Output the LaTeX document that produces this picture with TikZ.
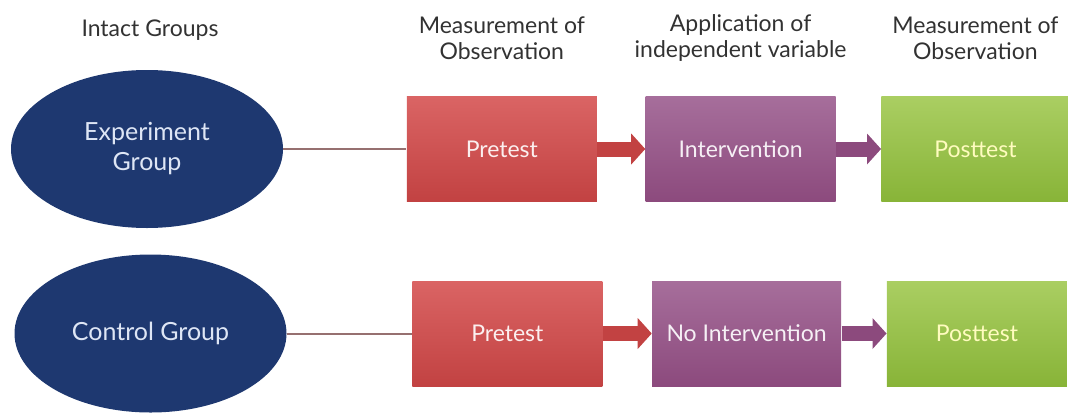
\documentclass[tikz,border=0pt]{standalone}
\usepackage{fontspec}
\setmainfont{Lato}
\usepackage{tikz}
\usetikzlibrary{arrows.meta,positioning,shapes.geometric}
\definecolor{groupblue}{RGB}{30,56,112}
\definecolor{grouptext}{RGB}{222,230,245}
\definecolor{pretop}{RGB}{218,100,100}
\definecolor{prebot}{RGB}{194,66,66}
\definecolor{inttop}{RGB}{166,110,155}
\definecolor{intbot}{RGB}{140,74,125}
\definecolor{posttop}{RGB}{170,206,98}
\definecolor{postbot}{RGB}{136,180,56}
\definecolor{linkgray}{RGB}{150,112,112}
\definecolor{headgray}{RGB}{50,50,50}

\begin{document}
\begin{tikzpicture}[
  x=0.5pt,y=-0.5pt,
  group/.style={ellipse,fill=groupblue,text=grouptext,align=center,
    minimum width=136pt,minimum height=79pt,font=\fontsize{12.5pt}{15pt}\selectfont},
  stage/.style={minimum height=52.5pt,align=center,font=\fontsize{11.5pt}{14pt}\selectfont},
  pretest/.style={stage,top color=pretop,bottom color=prebot,text=white!90!pretop},
  treat/.style={stage,top color=inttop,bottom color=intbot,text=white!90!inttop},
  posttest/.style={stage,top color=posttop,bottom color=postbot,text=white!75!yellow},
  head/.style={align=center,text=headgray,font=\fontsize{11.5pt}{13pt}\selectfont},
  link/.style={draw=linkgray,line width=1pt},
  flow/.style={line width=7.5pt,-{Triangle[length=7pt,width=15.5pt,line width=0pt]}}
]
\useasboundingbox (0,0) rectangle (1068,412);

% experiment row
\node[group] (exp) at (147,149) {Experiment\\Group};
\node[pretest,minimum width=95pt,right=61.5pt of exp] (pre1) {Pretest};
\node[treat,minimum width=95pt,right=24pt of pre1] (int1) {Intervention};
\node[posttest,minimum width=94pt,right=22.5pt of int1] (post1) {Posttest};

% control row
\node[group] (ctl) at (150.5,333.5) {Control Group};
\node[pretest,minimum width=95pt,right=62.5pt of ctl] (pre2) {Pretest};
\node[treat,minimum width=94.5pt,right=24.5pt of pre2] (nint2) {No Intervention};
\node[posttest,minimum width=90pt,right=22.5pt of nint2] (post2) {Posttest};

% column headings
\node[head] (hgrp) at (150,30) {Intact Groups};
\node[head] (hpre) at ([yshift=29pt]pre1.north) {Measurement of\\Observation};
\node[head] (hint) at ([yshift=29pt]int1.north) {Application of\\independent variable};
\node[head] (hpost) at ([yshift=29pt]post1.north) {Measurement of\\Observation};

\draw[link] (exp.east) -- (pre1.west);
\draw[link] (ctl.east) -- (pre2.west);
\draw[flow,prebot] (pre1) -- (int1);
\draw[flow,intbot] (int1) -- (post1);
\draw[flow,prebot] (pre2) -- (nint2);
\draw[flow,intbot] (nint2) -- (post2);
\end{tikzpicture}
\end{document}
